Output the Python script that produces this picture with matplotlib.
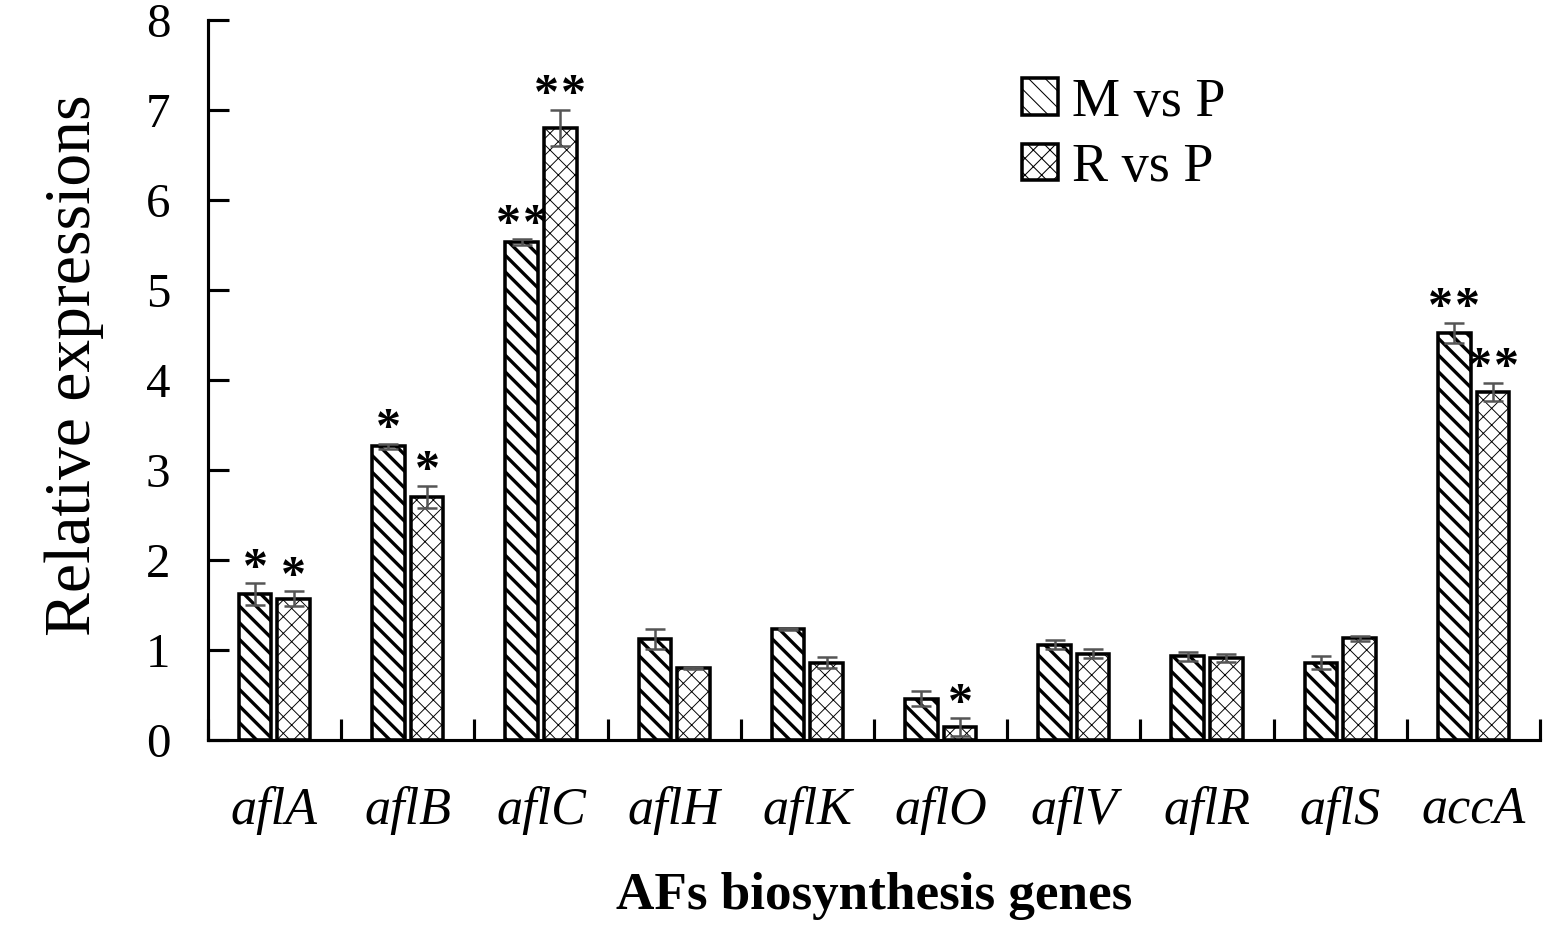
import numpy as np
import matplotlib.pyplot as plt

genes = ['aflA', 'aflB', 'aflC', 'aflH', 'aflK', 'aflO', 'aflV', 'aflR', 'aflS', 'accA']
m_vals = [1.62, 3.26, 5.53, 1.12, 1.23, 0.46, 1.06, 0.93, 0.86, 4.52]
m_err = [0.12, 0.03, 0.03, 0.11, 0.01, 0.08, 0.05, 0.05, 0.07, 0.11]
r_vals = [1.57, 2.70, 6.80, 0.80, 0.86, 0.14, 0.96, 0.91, 1.13, 3.87]
r_err = [0.08, 0.12, 0.20, 0.01, 0.06, 0.10, 0.05, 0.04, 0.03, 0.10]
m_sig = ['*', '*', '**', '', '', '', '', '', '', '**']
r_sig = ['*', '*', '**', '', '', '*', '', '', '', '**']

plt.rcParams['font.family'] = 'Liberation Serif'
plt.rcParams['hatch.linewidth'] = 0.5

fig = plt.figure(figsize=(10.34, 6.307), dpi=150)
ax = fig.add_axes([0.134, 0.2178, 0.859, 0.7612])

x = np.arange(len(genes))
w = 0.245
off = 0.145
xm = x + 0.5 - off
xr = x + 0.5 + off

bm = ax.bar(xm, m_vals, w, color='white', edgecolor='black', linewidth=1.7, hatch='\\\\\\')
br = ax.bar(xr, r_vals, w, color='white', edgecolor='black', linewidth=1.7, hatch='xxx')
for p in bm:
    try:
        p.set_hatch_linewidth(1.6)
    except AttributeError:
        pass
for p in br:
    try:
        p.set_hatch_linewidth(0.45)
    except AttributeError:
        pass

ax.errorbar(xm, m_vals, yerr=m_err, fmt='none', ecolor='#555555', elinewidth=1.2, capsize=5, capthick=1.2)
ax.errorbar(xr, r_vals, yerr=r_err, fmt='none', ecolor='#555555', elinewidth=1.2, capsize=5, capthick=1.2)

# significance stars, "**" drawn as two spaced stars
for xs, vals, errs, sig in [(xm, m_vals, m_err, m_sig), (xr, r_vals, r_err, r_sig)]:
    for xi, v, e, s in zip(xs, vals, errs, sig):
        n = len(s)
        for k in range(n):
            dx = (k - (n - 1) / 2) * 13
            ax.annotate('*', (xi, v + e + 0.02), xytext=(dx, 0), textcoords='offset points',
                        ha='center', va='baseline', fontsize=24, fontweight='bold')

ax.set_xlim(0, 10)
ax.set_ylim(0, 8)
ax.set_xticks(np.arange(0, 11))
ax.set_xticklabels([])
ax.set_xticks(x + 0.5, minor=True)
ax.set_xticklabels(genes, minor=True, fontstyle='italic', fontsize=25)
ax.tick_params(axis='x', which='major', direction='in', length=10, width=1.5)
ax.tick_params(axis='x', which='minor', length=0, pad=22)
ax.set_yticks(np.arange(0, 9))
ax.tick_params(axis='y', direction='in', length=10, width=1.5, labelsize=23.5, pad=18)

for s in ['top', 'right']:
    ax.spines[s].set_visible(False)
for s in ['left', 'bottom']:
    ax.spines[s].set_linewidth(1.5)

ax.set_ylabel('Relative expressions', fontsize=31.5, labelpad=20)
ax.yaxis.label.set_y(0.521)
ax.set_xlabel('AFs biosynthesis genes', fontsize=25.5, fontweight='bold', labelpad=18)

leg = ax.legend([bm, br], ['M vs P', 'R vs P'], loc='upper right', bbox_to_anchor=(0.80, 0.988),
                frameon=False, fontsize=26, handlelength=0.66, handleheight=0.66,
                handletextpad=0.25, labelspacing=0.27)

fig.savefig('out.png', dpi=150)
